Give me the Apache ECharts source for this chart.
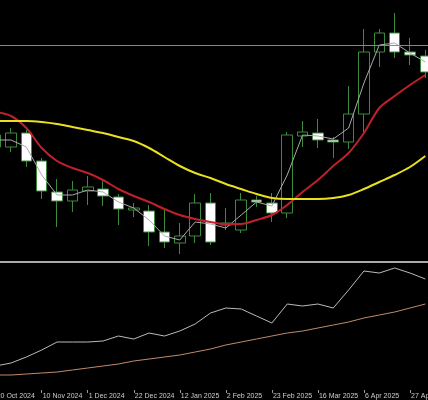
<!DOCTYPE html>
<html>
<head>
<meta charset="UTF-8">
<script src="https://cdn.jsdelivr.net/npm/echarts@6/dist/echarts.min.js"></script>
<style>html,body{margin:0;background:#000}</style>
</head>
<body>
<div id="main" style="width:428px;height:400px;"></div>
<script>
// values are read in picture units (downward scale, inverted axes)
var dates = ['20 Oct 2024','27 Oct 2024','3 Nov 2024','10 Nov 2024','17 Nov 2024','24 Nov 2024','1 Dec 2024','8 Dec 2024','15 Dec 2024','22 Dec 2024','29 Dec 2024','5 Jan 2025','12 Jan 2025','19 Jan 2025','26 Jan 2025','2 Feb 2025','9 Feb 2025','16 Feb 2025','23 Feb 2025','2 Mar 2025','9 Mar 2025','16 Mar 2025','23 Mar 2025','30 Mar 2025','6 Apr 2025','13 Apr 2025','20 Apr 2025','27 Apr 2025','4 May 2025'];
// [open, close, low, high]
var candles = [
  [135,147,128,152],[147,133,128,152],[133,161,130,167],[161,191,158,199],[192,201,179,227],
  [201,190,181,212],[191,187,176,205],[189,196,180,206],[197,209,194,225],[210,208,203,217],
  [211,232,205,246],[232,242,208,248],[243,236,223,254],[236,203,194,243],[203,242,193,245],
  [225,223,208,230],[230,200,193,233],[200,202,196,207],[203,213,193,222],[213,135,132,218],
  [136,132,121,147],[133,140,119,148],[140,142,137,158],[142,114,86,149],[114,52,29,132],
  [52,33,29,67],[33,52,13,58],[52,55,38,65],[56,72,50,78]
];
var maYellow = [121,121,121,122,124,127,130,133,137,141,148,157,166,173,178,184,189,194,198,199,199,199,198,195,189,182,175,167,156];
var maRed = [112,116,128,148,161,168,173,180,189,196,202,209,215,219,222,224,224,220,215,205,192,180,166,153,133,108,96,85,75];
var maFast = [140,140,147,175,195,195,190,192,202,208,220,236,240,222,224,228,215,202,206,175,135,136,139,128,83,45,43,53,62];
var oscA = [366,363,357,350,342,342,342,341,336,339,333,336,331,324,313,308,309,316,323,304,306,304,308,290,271,273,268,273,279];
var oscB = [375,375,374,373,372,370,368,366,364,361,359,357,355,352,349,345,342,339,336,333,331,328,325,322,318,315,312,308,304];

var chart = echarts.init(document.getElementById('main'));
chart.setOption({
  backgroundColor: '#000',
  animation: false,
  grid: [
    {left: -12, right: -5, top: 0, height: 260, outerBoundsMode: 'none', containLabel: false},
    {left: -12, right: -5, top: 262, height: 128, outerBoundsMode: 'none', containLabel: false}
  ],
  xAxis: [
    {type: 'category', data: dates, gridIndex: 0, axisLine: {show: false}, axisTick: {show: false}, axisLabel: {show: false}},
    {type: 'category', data: dates, gridIndex: 1, axisLine: {show: false},
     axisTick: {show: true, interval: 2, alignWithLabel: true, length: 3, lineStyle: {color: '#999'}},
     axisLabel: {interval: 2, color: '#ccc', fontSize: 7, align: 'left', margin: 3, padding: [0, 0, 0, 1],
                 hideOverlap: false, showMinLabel: true, fontFamily: 'Liberation Sans'}}
  ],
  yAxis: [
    {type: 'value', gridIndex: 0, inverse: true, min: 0, max: 260, show: false},
    {type: 'value', gridIndex: 1, inverse: true, min: 262, max: 390, show: false}
  ],
  series: [
    {type: 'candlestick', data: candles, xAxisIndex: 0, yAxisIndex: 0, barWidth: '72%',
     itemStyle: {color: '#fff', color0: '#000', borderColor: '#3c8a3c', borderColor0: '#3c8a3c', borderWidth: 1},
     markLine: {silent: true, symbol: 'none', label: {show: false}, lineStyle: {color: '#888', width: 1, type: 'solid'}, data: [{yAxis: 45}]}},
    {type: 'line', data: maFast, xAxisIndex: 0, yAxisIndex: 0, symbol: 'none', lineStyle: {color: '#aaa', width: 1}},
    {type: 'line', data: maRed, xAxisIndex: 0, yAxisIndex: 0, symbol: 'none', smooth: 0.3, lineStyle: {color: '#c0202a', width: 2}},
    {type: 'line', data: maYellow, xAxisIndex: 0, yAxisIndex: 0, symbol: 'none', smooth: 0.3, lineStyle: {color: '#e8e020', width: 2}},
    {type: 'line', data: oscA, xAxisIndex: 1, yAxisIndex: 1, symbol: 'none', lineStyle: {color: '#bbb', width: 1},
     markLine: {silent: true, symbol: 'none', label: {show: false}, lineStyle: {color: '#aaa', width: 2, type: 'solid'}, data: [{yAxis: 262}]}},
    {type: 'line', data: oscB, xAxisIndex: 1, yAxisIndex: 1, symbol: 'none', lineStyle: {color: '#c08a6a', width: 1}}
  ]
});
</script>
</body>
</html>
